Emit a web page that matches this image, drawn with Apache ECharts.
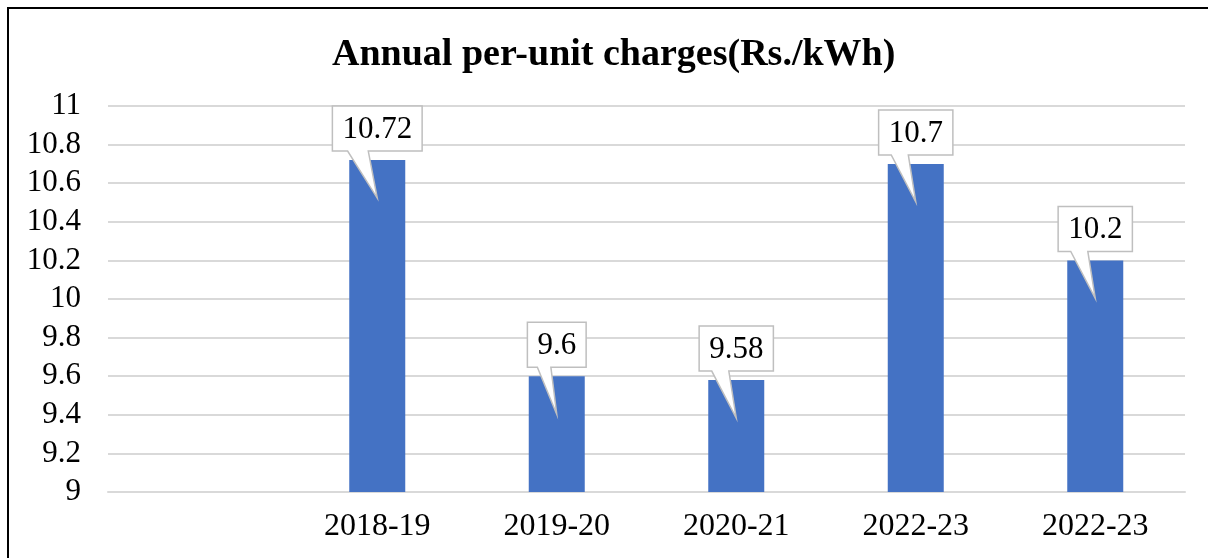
<!DOCTYPE html>
<html>
<head>
<meta charset="utf-8">
<script src="https://cdn.jsdelivr.net/npm/echarts@6/dist/echarts.min.js"></script>
<style>html,body{margin:0;padding:0;background:#fff}#c{width:1208px;height:558px}</style>
</head>
<body>
<div id="c"></div>
<script>
var titleText = 'Annual per-unit charges(Rs./kWh)';
var categories = ['', '2018-19', '2019-20', '2020-21', '2022-23', '2022-23'];
var charges = [null, 10.72, 9.6, 9.58, 10.7, 10.2];
var yTicks = [9, 9.2, 9.4, 9.6, 9.8, 10, 10.2, 10.4, 10.6, 10.8, 11];

var FONT = '"Liberation Serif", "Times New Roman", serif';
var labelFont = '31px ' + FONT;
var measureCtx = document.createElement('canvas').getContext('2d');
function textWidth(t) { measureCtx.font = labelFont; return measureCtx.measureText(t).width; }

var chart = echarts.init(document.getElementById('c'), null, {renderer: 'canvas'});
chart.setOption({
  animation: false,
  backgroundColor: '#fff',
  title: {
    text: titleText,
    left: 327,
    top: 31,
    textStyle: {fontFamily: FONT, fontSize: 38, fontWeight: 'bold', color: '#000'}
  },
  grid: {left: 108, right: 23, top: 106, bottom: 66},
  xAxis: {
    type: 'category',
    data: categories,
    axisLine: {show: true, lineStyle: {color: '#D9D9D9', width: 2}},
    axisTick: {show: false},
    axisLabel: {fontFamily: FONT, fontSize: 32, color: '#000', margin: 19}
  },
  yAxis: {
    type: 'value',
    min: yTicks[0],
    max: yTicks[yTicks.length - 1],
    interval: 0.2,
    axisLine: {show: false},
    axisTick: {show: false},
    splitLine: {lineStyle: {color: '#D9D9D9', width: 2}},
    axisLabel: {
      fontFamily: FONT, fontSize: 31, color: '#000', margin: 27,
      formatter: function (v) { return String(+v.toFixed(1)); }
    }
  },
  series: [
    {
      type: 'bar',
      data: charges,
      barWidth: 56,
      itemStyle: {color: '#4472C4'},
      z: 2
    },
    {
      type: 'custom',
      data: charges.map(function (v, i) { return [i, v]; }),
      clip: false,
      z: 5,
      renderItem: function (params, api) {
        var v = api.value(1);
        if (v == null || isNaN(v)) return null;
        var p = api.coord([api.value(0), v]);
        var cx = p[0], yTop = p[1];
        var label = String(v);
        var w = textWidth(label) + 20;
        var L = cx - w / 2, R = cx + w / 2;
        var B = yTop - 9, T = B - 45;
        var b1 = L + 0.17 * w, b2 = L + 0.40 * w;
        return {
          type: 'group',
          children: [
            {
              type: 'polygon',
              shape: {points: [[L, T], [R, T], [R, B], [b2, B], [cx, yTop + 38], [b1, B], [L, B]]},
              style: {fill: '#fff', stroke: '#BFBFBF', lineWidth: 1.5}
            },
            {
              type: 'text',
              style: {
                text: label, x: cx, y: (T + B) / 2 + 1,
                font: labelFont, fill: '#000',
                align: 'center', verticalAlign: 'middle'
              }
            }
          ]
        };
      }
    }
  ],
  graphic: [
    {type: 'line', shape: {x1: 8, y1: 7, x2: 8, y2: 558}, style: {stroke: '#000', lineWidth: 2}},
    {type: 'line', shape: {x1: 7, y1: 8, x2: 1208, y2: 8}, style: {stroke: '#000', lineWidth: 2}}
  ]
});
</script>
</body>
</html>
